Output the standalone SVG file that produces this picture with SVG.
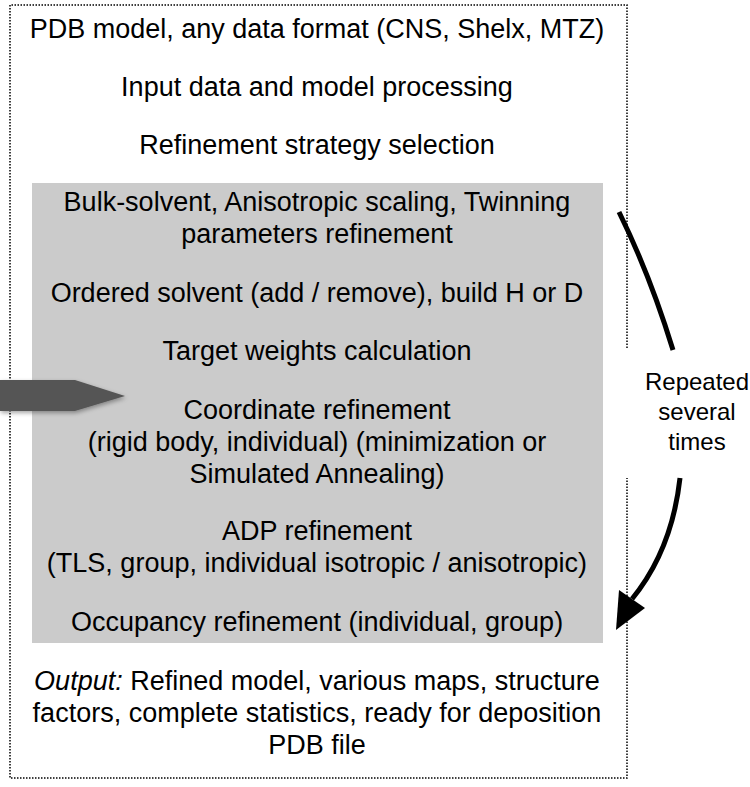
<svg xmlns="http://www.w3.org/2000/svg" width="750" height="787" viewBox="0 0 750 787">
<style>
.t{font-family:"Liberation Sans",Arial,sans-serif;font-size:27px;fill:#000;text-anchor:middle}
.r{font-family:"Liberation Sans",Arial,sans-serif;font-size:24px;fill:#000;text-anchor:middle}
.dot{fill:none;stroke:#000;stroke-width:1.5;stroke-dasharray:1.5 1.5}
.loop{fill:none;stroke:#000;stroke-width:5}
</style>
<defs>
<filter id="sh" x="-10%" y="-30%" width="130%" height="170%">
<feDropShadow dx="1" dy="2" stdDeviation="2" flood-color="#000" flood-opacity="0.35"/>
</filter>
</defs>
<g id="frame">
<path class="dot" d="M627,348 L627,5 L10,5 L10,778 L627,778 L627,478"/>
</g>
<g id="input"><text class="t" x="317" y="38">PDB model, any data format (CNS, Shelx, MTZ)</text></g>
<g id="processing"><text class="t" x="317" y="96">Input data and model processing</text></g>
<g id="strategy"><text class="t" x="317" y="154">Refinement strategy selection</text></g>
<g id="cycle">
<rect x="32" y="183" width="571" height="460" fill="#cbcbcb"/>
<text class="t" x="317" y="211">Bulk-solvent, Anisotropic scaling, Twinning</text>
<text class="t" x="317" y="243">parameters refinement</text>
<text class="t" x="317" y="302">Ordered solvent (add / remove), build H or D</text>
<text class="t" x="317" y="360">Target weights calculation</text>
<text class="t" x="317" y="419">Coordinate refinement</text>
<text class="t" x="317" y="451">(rigid body, individual) (minimization or</text>
<text class="t" x="317" y="483">Simulated Annealing)</text>
<text class="t" x="317" y="540">ADP refinement</text>
<text class="t" x="317" y="572">(TLS, group, individual isotropic / anisotropic)</text>
<text class="t" x="317" y="631">Occupancy refinement (individual, group)</text>
</g>
<g id="output">
<text class="t" x="317" y="690"><tspan font-style="italic">Output:</tspan> Refined model, various maps, structure</text>
<text class="t" x="317" y="722">factors, complete statistics, ready for deposition</text>
<text class="t" x="317" y="754">PDB file</text>
</g>
<g id="repeat-label">
<text class="r" x="697" y="390">Repeated</text>
<text class="r" x="697" y="420">several</text>
<text class="r" x="697" y="450">times</text>
</g>
<g id="connectors">
<polygon points="0,380 75,380 125,396 75,411 0,411" fill="#555555" filter="url(#sh)"/>
<path class="loop" d="M619,212 Q650,275 673,350"/>
<path class="loop" d="M680,478 Q672,550 632,599"/>
<polygon points="619,590 645,608 616,630" fill="#000"/>
</g>
</svg>
